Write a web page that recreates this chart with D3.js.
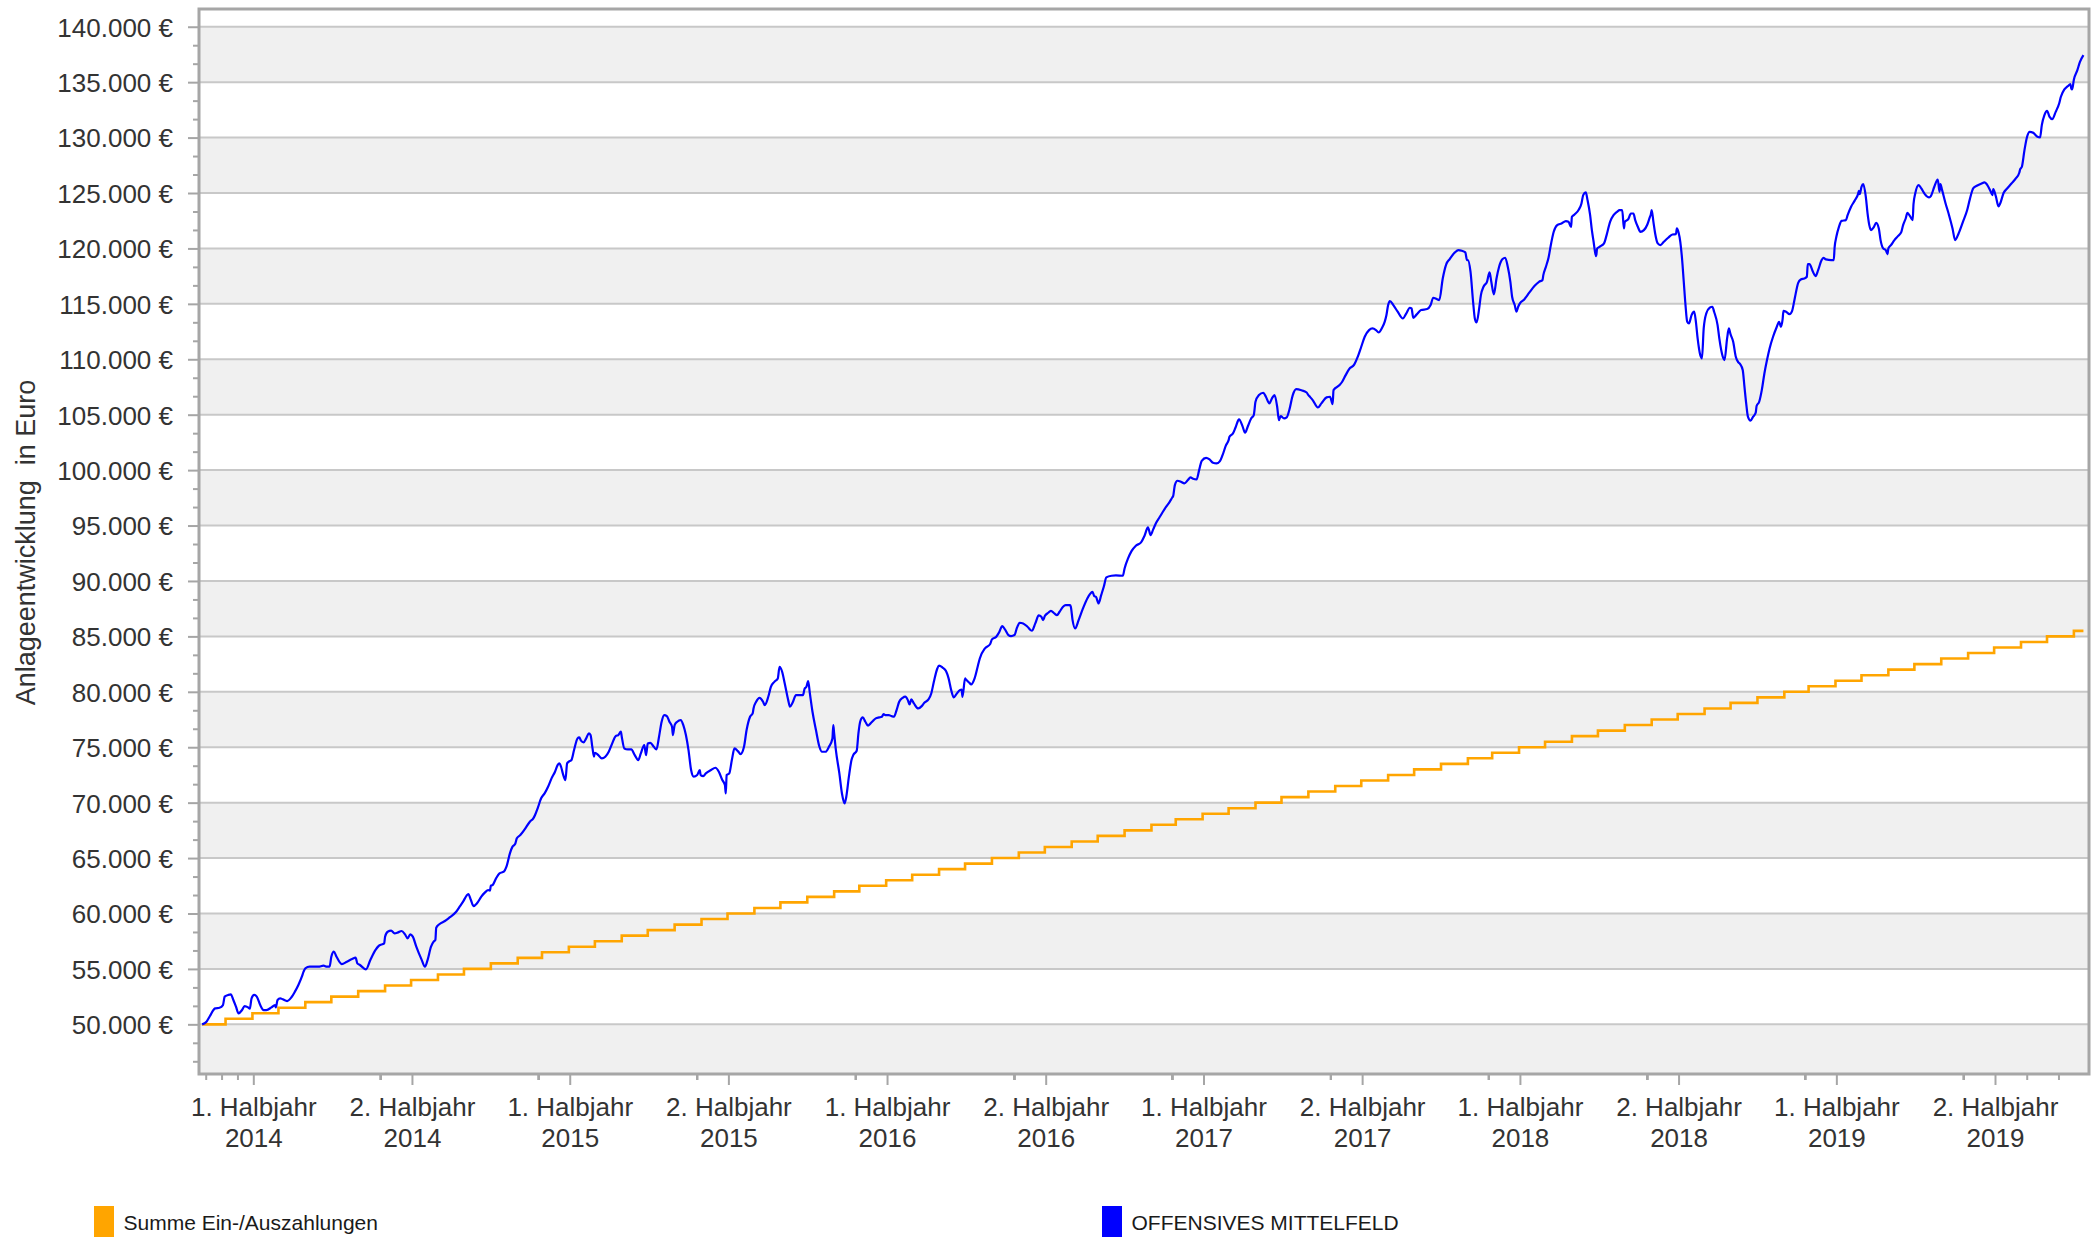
<!DOCTYPE html>
<html><head><meta charset="utf-8">
<script src="https://cdn.jsdelivr.net/npm/d3@7"></script>
<style>
html,body{margin:0;padding:0;background:#fff;}
svg{display:block;}
text{font-family:"Liberation Sans", Arial, Helvetica, sans-serif;}
</style></head><body>
<svg id="chart" width="2100" height="1237"></svg>
<script>
// ---------------- DATA ----------------
const seriesNames = ["Summe Ein-/Auszahlungen", "OFFENSIVES MITTELFELD"];
const yTitle = "Anlageentwicklung  in Euro";

const xTickDates = ["2014-04-01","2014-10-01","2015-04-01","2015-10-01","2016-04-01","2016-10-01",
                    "2017-04-01","2017-10-01","2018-04-01","2018-10-01","2019-04-01","2019-10-01"];
const xTickLabels = [["1. Halbjahr","2014"],["2. Halbjahr","2014"],["1. Halbjahr","2015"],["2. Halbjahr","2015"],
                     ["1. Halbjahr","2016"],["2. Halbjahr","2016"],["1. Halbjahr","2017"],["2. Halbjahr","2017"],
                     ["1. Halbjahr","2018"],["2. Halbjahr","2018"],["1. Halbjahr","2019"],["2. Halbjahr","2019"]];
const yTickValues = [50000,55000,60000,65000,70000,75000,80000,85000,90000,95000,
                     100000,105000,110000,115000,120000,125000,130000,135000,140000];

// Summe Ein-/Auszahlungen (monthly steps)
const orangeDates = ["2014-02-01","2014-02-28","2014-03-31","2014-04-30","2014-05-31","2014-06-30","2014-07-31","2014-08-31","2014-09-30","2014-10-31","2014-11-30","2014-12-31",
"2015-01-31","2015-02-28","2015-03-31","2015-04-30","2015-05-31","2015-06-30","2015-07-31","2015-08-31","2015-09-30","2015-10-31","2015-11-30","2015-12-31",
"2016-01-31","2016-02-29","2016-03-31","2016-04-30","2016-05-31","2016-06-30","2016-07-31","2016-08-31","2016-09-30","2016-10-31","2016-11-30","2016-12-31",
"2017-01-31","2017-02-28","2017-03-31","2017-04-30","2017-05-31","2017-06-30","2017-07-31","2017-08-31","2017-09-30","2017-10-31","2017-11-30","2017-12-31",
"2018-01-31","2018-02-28","2018-03-31","2018-04-30","2018-05-31","2018-06-30","2018-07-31","2018-08-31","2018-09-30","2018-10-31","2018-11-30","2018-12-31",
"2019-01-31","2019-02-28","2019-03-31","2019-04-30","2019-05-31","2019-06-30","2019-07-31","2019-08-31","2019-09-30","2019-10-31","2019-11-30","2019-12-31","2020-01-11"];
const orangeValues = [50000,50500,51000,51500,52000,52500,53000,53500,54000,54500,55000,55500,
56000,56500,57000,57500,58000,58500,59000,59500,60000,60500,61000,61500,
62000,62500,63000,63500,64000,64500,65000,65500,66000,66500,67000,67500,
68000,68500,69000,69500,70000,70500,71000,71500,72000,72500,73000,73500,
74000,74500,75000,75500,76000,76500,77000,77500,78000,78500,79000,79500,
80000,80500,81000,81500,82000,82500,83000,83500,84000,84500,85000,85500,85500];

// OFFENSIVES MITTELFELD
const blueDates = [
"2014-02-01","2014-02-06","2014-02-10","2014-02-14","2014-02-16","2014-02-21","2014-02-25","2014-02-27","2014-03-03","2014-03-06",
"2014-03-09","2014-03-12","2014-03-15","2014-03-19","2014-03-22","2014-03-26","2014-03-28","2014-03-30","2014-04-02","2014-04-05",
"2014-04-09","2014-04-13","2014-04-16","2014-04-22","2014-04-26","2014-04-27","2014-04-29","2014-05-02","2014-05-05","2014-05-10",
"2014-05-15","2014-05-19","2014-05-23","2014-05-27","2014-05-29","2014-05-31","2014-06-05","2014-06-11","2014-06-15","2014-06-21",
"2014-06-25","2014-06-28","2014-06-30","2014-07-03","2014-07-06","2014-07-12","2014-07-18","2014-07-24","2014-07-28","2014-07-30",
"2014-08-02","2014-08-09","2014-08-14","2014-08-20","2014-08-24","2014-08-30","2014-08-31","2014-09-03","2014-09-07","2014-09-11",
"2014-09-15","2014-09-19","2014-09-23","2014-09-26","2014-09-29","2014-10-02","2014-10-06","2014-10-12","2014-10-16","2014-10-19",
"2014-10-23","2014-10-26","2014-10-28","2014-10-29","2014-11-02","2014-11-08","2014-11-13","2014-11-21","2014-11-25","2014-11-29",
"2014-12-03","2014-12-05","2014-12-08","2014-12-11","2014-12-15","2014-12-20","2014-12-24","2014-12-28","2014-12-30","2014-12-31",
"2015-01-02","2015-01-06","2015-01-10","2015-01-15","2015-01-18","2015-01-22","2015-01-25","2015-01-28","2015-01-30","2015-02-03",
"2015-02-08","2015-02-14","2015-02-18","2015-02-20","2015-02-23","2015-02-27","2015-03-03","2015-03-07","2015-03-11","2015-03-15",
"2015-03-18","2015-03-20","2015-03-22","2015-03-24","2015-03-27","2015-03-29","2015-03-31","2015-04-03","2015-04-06","2015-04-10",
"2015-04-12","2015-04-14","2015-04-17","2015-04-20","2015-04-23","2015-04-25","2015-04-27","2015-04-29","2015-04-30","2015-05-04",
"2015-05-08","2015-05-12","2015-05-16","2015-05-20","2015-05-24","2015-05-27","2015-05-30","2015-05-31","2015-06-03","2015-06-07",
"2015-06-11","2015-06-15","2015-06-19","2015-06-22","2015-06-26","2015-06-28","2015-06-30","2015-07-03","2015-07-07","2015-07-10",
"2015-07-13","2015-07-16","2015-07-19","2015-07-22","2015-07-25","2015-07-28","2015-07-29","2015-07-31","2015-08-03","2015-08-07",
"2015-08-10","2015-08-13","2015-08-16","2015-08-19","2015-08-22","2015-08-26","2015-08-29","2015-08-30","2015-09-02","2015-09-05",
"2015-09-11","2015-09-16","2015-09-20","2015-09-24","2015-09-27","2015-09-28","2015-09-29","2015-10-02","2015-10-05","2015-10-08",
"2015-10-12","2015-10-15","2015-10-19","2015-10-22","2015-10-26","2015-10-29","2015-10-30","2015-11-02","2015-11-06","2015-11-10",
"2015-11-12","2015-11-16","2015-11-19","2015-11-23","2015-11-27","2015-11-29","2015-12-02","2015-12-05","2015-12-09","2015-12-11",
"2015-12-14","2015-12-18","2015-12-22","2015-12-26","2015-12-28","2015-12-30","2016-01-01","2016-01-03","2016-01-06","2016-01-10",
"2016-01-14","2016-01-17","2016-01-21","2016-01-25","2016-01-29","2016-01-30","2016-01-31","2016-02-02","2016-02-06","2016-02-09",
"2016-02-12","2016-02-14","2016-02-17","2016-02-20","2016-02-22","2016-02-26","2016-02-28","2016-03-01","2016-03-04","2016-03-07",
"2016-03-10","2016-03-13","2016-03-16","2016-03-19","2016-03-23","2016-03-26","2016-03-28","2016-03-30","2016-04-03","2016-04-06",
"2016-04-09","2016-04-12","2016-04-15","2016-04-19","2016-04-22","2016-04-25","2016-04-27","2016-04-29","2016-05-02","2016-05-07",
"2016-05-11","2016-05-14","2016-05-19","2016-05-22","2016-05-25","2016-05-29","2016-05-31","2016-06-04","2016-06-08","2016-06-11",
"2016-06-14","2016-06-17","2016-06-20","2016-06-24","2016-06-26","2016-06-27","2016-06-30","2016-07-01","2016-07-05","2016-07-07",
"2016-07-11","2016-07-15","2016-07-17","2016-07-23","2016-07-29","2016-07-31","2016-08-05","2016-08-08","2016-08-12","2016-08-15",
"2016-08-19","2016-08-22","2016-08-26","2016-08-29","2016-09-01","2016-09-05","2016-09-10","2016-09-15","2016-09-19","2016-09-23",
"2016-09-26","2016-09-28","2016-09-30","2016-10-04","2016-10-07","2016-10-11","2016-10-14","2016-10-17","2016-10-21","2016-10-24",
"2016-10-29","2016-10-30","2016-11-01","2016-11-04","2016-11-08","2016-11-13","2016-11-18","2016-11-21","2016-11-24","2016-11-26",
"2016-11-28","2016-12-01","2016-12-04","2016-12-07","2016-12-10","2016-12-16","2016-12-21","2016-12-29","2016-12-31","2017-01-04",
"2017-01-08","2017-01-13","2017-01-19","2017-01-23","2017-01-27","2017-01-30","2017-02-02","2017-02-05","2017-02-09","2017-02-13",
"2017-02-17","2017-02-21","2017-02-24","2017-02-25","2017-02-27","2017-03-02","2017-03-06","2017-03-10","2017-03-14","2017-03-17",
"2017-03-20","2017-03-24","2017-03-27","2017-03-30","2017-04-04","2017-04-08","2017-04-12","2017-04-16","2017-04-20","2017-04-23",
"2017-04-27","2017-04-30","2017-05-01","2017-05-05","2017-05-08","2017-05-12","2017-05-16","2017-05-19","2017-05-22","2017-05-26",
"2017-05-29","2017-05-31","2017-06-04","2017-06-09","2017-06-12","2017-06-16","2017-06-19","2017-06-22","2017-06-25","2017-06-27",
"2017-06-29","2017-07-03","2017-07-06","2017-07-09","2017-07-13","2017-07-17","2017-07-23","2017-07-29","2017-07-31","2017-08-01",
"2017-08-05","2017-08-11","2017-08-15","2017-08-21","2017-08-25","2017-08-28","2017-08-29","2017-09-05","2017-09-08","2017-09-12",
"2017-09-16","2017-09-22","2017-09-26","2017-09-30","2017-10-04","2017-10-09","2017-10-13","2017-10-17","2017-10-20","2017-10-24",
"2017-10-27","2017-10-29","2017-10-31","2017-11-02","2017-11-06","2017-11-11","2017-11-17","2017-11-21","2017-11-25","2017-11-27",
"2017-11-29","2017-12-03","2017-12-08","2017-12-15","2017-12-19","2017-12-22","2017-12-26","2017-12-29","2018-01-02","2018-01-06",
"2018-01-10","2018-01-16","2018-01-20","2018-01-24","2018-01-28","2018-01-30","2018-01-31","2018-02-03","2018-02-06","2018-02-08",
"2018-02-10","2018-02-13","2018-02-15","2018-02-18","2018-02-22","2018-02-25","2018-02-27","2018-03-02","2018-03-05","2018-03-08",
"2018-03-12","2018-03-15","2018-03-18","2018-03-21","2018-03-23","2018-03-26","2018-03-28","2018-03-30","2018-04-01","2018-04-06",
"2018-04-12","2018-04-18","2018-04-23","2018-04-27","2018-04-28","2018-05-01","2018-05-04","2018-05-07","2018-05-10","2018-05-14",
"2018-05-19","2018-05-24","2018-05-27","2018-05-30","2018-05-31","2018-06-03","2018-06-08","2018-06-11","2018-06-13","2018-06-16",
"2018-06-18","2018-06-21","2018-06-23","2018-06-25","2018-06-27","2018-06-28","2018-06-29","2018-07-03","2018-07-07","2018-07-10",
"2018-07-14","2018-07-18","2018-07-22","2018-07-25","2018-07-28","2018-07-30","2018-07-31","2018-08-04","2018-08-07","2018-08-10",
"2018-08-12","2018-08-15","2018-08-18","2018-08-22","2018-08-26","2018-08-29","2018-08-30","2018-08-31","2018-09-02","2018-09-04",
"2018-09-07","2018-09-10","2018-09-14","2018-09-19","2018-09-24","2018-09-28","2018-09-29","2018-10-01","2018-10-03","2018-10-05",
"2018-10-07","2018-10-09","2018-10-11","2018-10-13","2018-10-16","2018-10-19","2018-10-21","2018-10-23","2018-10-26","2018-10-28",
"2018-10-30","2018-11-02","2018-11-06","2018-11-09","2018-11-11","2018-11-15","2018-11-17","2018-11-21","2018-11-23","2018-11-26",
"2018-11-28","2018-11-30","2018-12-03","2018-12-06","2018-12-09","2018-12-11","2018-12-14","2018-12-16","2018-12-18","2018-12-20",
"2018-12-23","2018-12-26","2018-12-29","2018-12-30","2019-01-02","2019-01-05","2019-01-08","2019-01-11","2019-01-14","2019-01-18",
"2019-01-22","2019-01-25","2019-01-27","2019-01-29","2019-01-30","2019-02-02","2019-02-06","2019-02-09","2019-02-12","2019-02-16",
"2019-02-19","2019-02-23","2019-02-26","2019-02-27","2019-03-01","2019-03-05","2019-03-08","2019-03-11","2019-03-15","2019-03-17",
"2019-03-20","2019-03-26","2019-03-29","2019-03-30","2019-04-01","2019-04-04","2019-04-07","2019-04-12","2019-04-14","2019-04-18",
"2019-04-22","2019-04-26","2019-04-27","2019-04-28","2019-04-30","2019-05-02","2019-05-05","2019-05-07","2019-05-09","2019-05-11",
"2019-05-14","2019-05-17","2019-05-20","2019-05-22","2019-05-25","2019-05-28","2019-05-30","2019-05-31","2019-06-03","2019-06-07",
"2019-06-11","2019-06-15","2019-06-17","2019-06-20","2019-06-22","2019-06-25","2019-06-28","2019-06-29","2019-07-01","2019-07-05",
"2019-07-08","2019-07-12","2019-07-17","2019-07-19","2019-07-23","2019-07-27","2019-07-29","2019-07-30","2019-08-01","2019-08-05",
"2019-08-09","2019-08-13","2019-08-16","2019-08-20","2019-08-25","2019-08-30","2019-09-02","2019-09-06","2019-09-10","2019-09-15",
"2019-09-19","2019-09-22","2019-09-26","2019-09-28","2019-09-29","2019-10-02","2019-10-05","2019-10-07","2019-10-11","2019-10-15",
"2019-10-20","2019-10-25","2019-10-29","2019-10-30","2019-11-01","2019-11-04","2019-11-07","2019-11-10","2019-11-14","2019-11-19",
"2019-11-22","2019-11-24","2019-11-27","2019-11-30","2019-12-03","2019-12-06","2019-12-10","2019-12-14","2019-12-16","2019-12-20",
"2019-12-24","2019-12-27","2019-12-28","2019-12-29","2019-12-31","2020-01-04","2020-01-07","2020-01-11"];
const blueValues = [
50000,50240,50750,51290,51440,51500,51740,52500,52650,52710,
52200,51590,50990,51290,51650,51530,51410,52350,52650,52500,
51740,51290,51290,51530,51740,51530,52200,52350,52260,52100,
52440,52950,53550,54300,54750,55050,55200,55200,55200,55290,
55200,55200,56100,56560,56100,55440,55650,55890,56010,55500,
55350,54960,55800,56710,57100,57310,57910,58360,58450,58210,
58300,58420,58120,57760,58120,57910,57010,55860,55200,55800,
57010,57460,57610,58720,59050,59320,59620,60160,60610,61070,
61610,61760,61220,60670,60920,61520,61880,62120,62060,62510,
62570,63170,63620,63770,64220,65430,66030,66270,66780,67080,
67590,68280,68580,68880,69490,70390,70840,71440,72190,72790,
73390,73550,73240,72640,72040,73550,73700,73850,74750,75800,
75890,75590,75440,75800,76250,76100,75050,74150,74500,74290,
73990,74140,74590,75350,76010,76100,76400,75950,74890,74800,
74800,74290,73840,74440,75190,74290,75340,75400,75040,74800,
75950,77300,77900,77810,77300,76850,76100,77000,77300,77450,
77000,76100,74740,72940,72340,72490,72940,72490,72400,72640,
72940,73150,72790,72040,71590,70830,72490,72640,73840,74890,
74650,74380,75040,76550,77750,78050,78500,79100,79460,79100,
78800,79550,80450,80900,81210,82260,81810,80750,79250,78650,
79010,79700,79700,79700,80300,80450,80960,79850,78200,76550,
75040,74590,74590,75040,75790,77000,76250,74740,72640,70830,
69930,70530,72340,73840,74290,74680,76250,77300,77690,77300,
76940,77150,77390,77600,77690,77750,77990,77900,77900,77810,
77750,78350,79100,79460,79560,79250,78860,79310,78950,78500,
78710,79010,79340,79850,80900,82100,82370,82190,81870,81210,
80150,79490,79790,80150,80210,79550,81210,81120,80810,80660,
81210,82410,83010,83920,84310,84730,84970,85330,85930,85630,
85120,85030,85120,85810,86230,86170,85870,85510,86170,86890,
86770,86470,86830,87130,87310,87070,86920,87220,87670,87820,
87820,87670,86470,85720,86470,87520,88420,88810,89020,88630,
88570,87970,88720,89480,90320,90470,90500,90470,91130,92030,
92690,93180,93480,94080,94830,94140,94650,95190,95700,96220,
96700,97140,97530,97650,98650,99040,98950,98800,99100,99340,
99220,99160,100000,100840,101110,100960,100660,100600,100810,101350,
102250,102710,103010,103310,103850,104570,103970,103370,103910,104660,
104960,106160,106770,106980,106620,106020,106470,106770,105720,104510,
104870,104660,104750,105420,106770,107300,107200,107000,106770,106680,
106320,105650,106020,106560,106620,105960,107220,107670,107970,108570,
109120,109540,110230,111130,112030,112630,112780,112630,112420,112840,
113380,113980,114890,115250,114890,114290,113680,114140,114650,114590,
113740,114050,114440,114530,114890,115550,115430,115340,117290,118560,
119040,119640,119850,119790,119640,118950,118950,117900,115180,113680,
113320,114590,115790,116540,116990,117840,116990,115850,117290,118350,
119040,119160,118350,116990,115640,114890,114290,114740,115040,115400,
116030,116630,116990,117140,117590,118350,119160,120450,121500,122100,
122250,122460,122400,121950,122850,123060,123510,124060,124810,125050,
124360,123000,121650,120600,119540,119300,119990,120200,120450,121200,
122400,123000,123300,123450,123450,121800,122400,122640,123150,123150,
122550,121950,121500,121650,122160,122850,123060,123450,122400,121350,
120450,120300,120600,120960,121260,121290,121800,121440,120600,119090,
116990,114890,113380,113230,113980,114290,113380,111880,110380,110080,
112780,114140,114650,114740,114290,113080,111880,110230,109930,111880,
112780,112240,111580,110230,109720,109570,109030,107530,106020,104820,
104460,104820,105180,105780,106170,107220,108720,109930,110980,112030,
112870,113380,112930,113590,114370,114280,114070,114370,115490,116900,
117200,117290,117440,118580,118580,117890,117500,118040,118950,119160,
119010,118950,118950,120090,121050,121950,122490,122550,123000,123760,
124290,124900,125200,124900,125560,125800,124660,123160,122100,121650,
121890,122310,121800,120750,120000,119850,119490,120000,120300,120750,
121110,121500,122100,122700,123210,122910,122550,123990,124960,125710,
125410,124900,124600,124720,125560,126220,125110,125800,125260,124060,
123000,121800,120750,121350,122400,123490,124450,125440,125650,125830,
125950,125740,125140,124810,125350,124690,123790,124060,125020,125410,
125860,126320,126830,127130,127370,128870,130070,130520,130430,130070,
130010,131120,132020,132410,131870,131660,132320,133080,133680,134340,
134640,134820,134430,134340,135240,136080,136830,137440];

// ---------------- CHART ----------------
const parse = d3.timeParse("%Y-%m-%d");
const plot = {left: 199, right: 2089, top: 9, bottom: 1074};
const svg = d3.select("#chart");

// time scale anchored on the half-year label positions
const xAnchor = d3.scaleTime().domain([parse("2014-04-01"), parse("2019-10-01")]).range([253.3, 1995]);
const x = d3.scaleTime().domain([xAnchor.invert(plot.left), xAnchor.invert(plot.right)]).range([plot.left, plot.right]);
const y = d3.scaleLinear().domain([45520, 141600]).range([plot.bottom, plot.top]);

const deLocale = d3.formatLocale({decimal: ",", thousands: ".", grouping: [3], currency: ["", " €"]});
const fmt = deLocale.format(",.0f");

const axisColor = "#a6a6a6", gridColor = "#c8c8c8", bandColor = "#f0f0f0", textColor = "#333333";

// plot background
svg.append("rect").attr("x", plot.left).attr("y", plot.top)
  .attr("width", plot.right - plot.left).attr("height", plot.bottom - plot.top).attr("fill", "#fff");

// alternating bands
const bands = [[y.domain()[0], yTickValues[0]]];
yTickValues.forEach(v => { if (v % 10000 === 5000 && v + 5000 <= y.domain()[1]) bands.push([v, v + 5000]); });
svg.append("g").selectAll("rect").data(bands).join("rect")
  .attr("x", plot.left).attr("width", plot.right - plot.left)
  .attr("y", d => y(d[1])).attr("height", d => y(d[0]) - y(d[1]))
  .attr("fill", bandColor);

// grid lines
svg.append("g").selectAll("line").data(yTickValues).join("line")
  .attr("x1", plot.left).attr("x2", plot.right)
  .attr("y1", d => y(d)).attr("y2", d => y(d))
  .attr("stroke", gridColor).attr("stroke-width", 2);

// clip
svg.append("clipPath").attr("id", "clip").append("rect")
  .attr("x", plot.left).attr("y", plot.top)
  .attr("width", plot.right - plot.left).attr("height", plot.bottom - plot.top);

const orange = orangeDates.map((d, i) => ({date: parse(d), value: orangeValues[i]}));
const blue = blueDates.map((d, i) => ({date: parse(d), value: blueValues[i]}));

const lineStep = d3.line().x(d => x(d.date)).y(d => y(d.value)).curve(d3.curveStepAfter);
const lineSmooth = d3.line().x(d => x(d.date)).y(d => y(d.value)).curve(d3.curveMonotoneX);

const lines = svg.append("g").attr("clip-path", "url(#clip)");
lines.append("path").datum(orange).attr("d", lineStep)
  .attr("fill", "none").attr("stroke", "#ffa500").attr("stroke-width", 2.6).attr("stroke-linejoin", "miter");
lines.append("path").datum(blue).attr("d", lineSmooth)
  .attr("fill", "none").attr("stroke", "#0000ff").attr("stroke-width", 2.2).attr("stroke-linejoin", "round");

// Y axis: minor ticks
const step = 5000 / 3;
const yMinor = d3.range(Math.ceil(y.domain()[0] / step), Math.floor(y.domain()[1] / step) + 1)
  .map(k => k * step).filter(v => Math.abs(v / 5000 - Math.round(v / 5000)) > 1e-6);
svg.append("g").attr("transform", `translate(${plot.left},0)`)
  .call(d3.axisLeft(y).tickValues(yMinor).tickSize(6).tickFormat(""))
  .call(g => g.select(".domain").remove())
  .call(g => g.selectAll("line").attr("stroke", axisColor).attr("stroke-width", 2));

// Y axis: major ticks + labels
svg.append("g").attr("transform", `translate(${plot.left},0)`)
  .call(d3.axisLeft(y).tickValues(yTickValues).tickSize(11).tickPadding(15).tickFormat(d => fmt(d) + " €"))
  .call(g => g.select(".domain").remove())
  .call(g => g.selectAll("line").attr("stroke", axisColor).attr("stroke-width", 2))
  .call(g => g.selectAll("text").attr("fill", textColor).attr("font-size", 26)
    .attr("font-family", '"Liberation Sans", Arial, sans-serif').attr("dy", "0.36em"));

// X axis: major & minor ticks
const xMajor = xTickDates.map(parse);
const xMinor = [];
const firstLen = xMajor[1] - xMajor[0];
[0.3, 0.2, 0.1].forEach(f => xMinor.push(new Date(+xMajor[0] - f * firstLen)));
for (let i = 0; i < xMajor.length - 1; i++) {
  const interp = d3.interpolateDate(xMajor[i], xMajor[i + 1]);
  [0.2, 0.4, 0.6, 0.8].forEach(f => xMinor.push(interp(f)));
}
const lastLen = xMajor[xMajor.length - 1] - xMajor[xMajor.length - 2];
[0.2, 0.4].forEach(f => xMinor.push(new Date(+xMajor[xMajor.length - 1] + f * lastLen)));

svg.append("g").attr("transform", `translate(0,${plot.bottom})`)
  .call(d3.axisBottom(x).tickValues(xMinor).tickSize(6).tickFormat(""))
  .call(g => g.select(".domain").remove())
  .call(g => g.selectAll("line").attr("stroke", axisColor).attr("stroke-width", 2));

const xAx = svg.append("g").attr("transform", `translate(0,${plot.bottom})`)
  .call(d3.axisBottom(x).tickValues(xMajor).tickSize(11).tickFormat(""))
  .call(g => g.select(".domain").remove())
  .call(g => g.selectAll("line").attr("stroke", axisColor).attr("stroke-width", 2));
xAx.selectAll(".tick").each(function(d, i) {
  const t = d3.select(this).append("text").attr("fill", textColor).attr("font-size", 26)
    .attr("text-anchor", "middle").attr("font-family", '"Liberation Sans", Arial, sans-serif');
  t.append("tspan").attr("x", 0).attr("y", 41.7).text(xTickLabels[i][0]);
  t.append("tspan").attr("x", 0).attr("y", 72.7).text(xTickLabels[i][1]);
});

// plot border
svg.append("rect").attr("x", plot.left).attr("y", plot.top)
  .attr("width", plot.right - plot.left).attr("height", plot.bottom - plot.top)
  .attr("fill", "none").attr("stroke", axisColor).attr("stroke-width", 3);

// Y title
svg.append("text")
  .attr("transform", `translate(35,${(plot.top + plot.bottom) / 2 + 1}) rotate(-90)`)
  .attr("text-anchor", "middle").attr("font-size", 27).attr("fill", textColor)
  .style("white-space", "pre").text(yTitle);

// Legend
const legendItems = [
  {name: seriesNames[0], color: "#ffa500", x: 94},
  {name: seriesNames[1], color: "#0000ff", x: 1102}
];
const lg = svg.append("g").selectAll("g").data(legendItems).join("g");
lg.append("rect").attr("x", d => d.x).attr("y", 1206).attr("width", 20).attr("height", 32).attr("fill", d => d.color);
lg.append("text").attr("x", d => d.x + 29.5).attr("y", 1230).attr("font-size", 21).attr("fill", "#1a1a1a")
  .text(d => d.name);
</script>
</body></html>
